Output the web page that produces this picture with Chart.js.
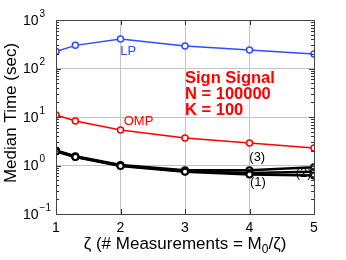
<!DOCTYPE html>
<html>
<head>
<meta charset="UTF-8">
<script src="https://cdn.jsdelivr.net/npm/chart.js"></script>
<style>
  body { margin: 0; background: #fff; }
  #wrap { width: 346px; height: 260px; }
</style>
</head>
<body>
<div id="wrap"><canvas id="timeChart"></canvas></div>
<script>
const zeta = [1, 1.3, 2, 3, 4, 5];
const lpTime = [225, 300, 405, 292, 242, 200];
const ompTime = [11, 8.3, 5.4, 3.7, 2.9, 2.3];
const curve1 = [1.95, 1.5, 0.98, 0.74, 0.65, 0.62];
const curve2 = [2.0, 1.52, 1.0, 0.76, 0.7, 0.74];
const curve3 = [2.05, 1.55, 1.02, 0.8, 0.8, 0.92];

const xTicks = [1, 2, 3, 4, 5];
const yExponents = [-1, 0, 1, 2, 3];

// text placed on the plot, in data coordinates
const notes = [
    { text: 'LP', x: 2.12, y: 230, color: '#2e4dff' },
    { text: 'OMP', x: 2.28, y: 8.0, color: '#ff0000' },
    { text: '(3)', x: 4.12, y: 1.44, color: '#000' },
    { text: '(2)', x: 4.84, y: 0.68, color: '#000' },
    { text: '(1)', x: 4.13, y: 0.44, color: '#000' }
];
const infoLines = ['Sign Signal', 'N = 100000', 'K = 100'];

const FONT = 'Arial, "Liberation Sans", sans-serif';

function pts(values) {
    return values.map((v, i) => ({ x: zeta[i], y: v }));
}

function blackSet(values) {
    return {
        data: pts(values),
        borderColor: '#000',
        borderWidth: 2.5,
        pointRadius: 3,
        pointBorderWidth: 2,
        pointBackgroundColor: '#fff',
        pointBorderColor: '#000'
    };
}

const decorations = {
    id: 'decorations',
    afterDraw(chart) {
        const { ctx, chartArea: a, scales: { x, y } } = chart;
        ctx.save();

        // inward tick marks
        ctx.strokeStyle = '#333';
        ctx.lineWidth = 1;
        ctx.beginPath();
        y.ticks.forEach(t => {
            const py = Math.round(y.getPixelForValue(t.value)) + 0.5;
            const len = t.major ? 5 : 3;
            ctx.moveTo(a.left, py); ctx.lineTo(a.left + len, py);
            ctx.moveTo(a.right, py); ctx.lineTo(a.right - len, py);
        });
        xTicks.forEach(v => {
            const px = Math.round(x.getPixelForValue(v)) + 0.5;
            ctx.moveTo(px, a.bottom); ctx.lineTo(px, a.bottom - 5);
            ctx.moveTo(px, a.top); ctx.lineTo(px, a.top + 5);
        });
        ctx.stroke();

        // frame
        ctx.strokeStyle = '#444';
        ctx.strokeRect(Math.round(a.left) + 0.5, Math.round(a.top) + 0.5,
            Math.round(a.width), Math.round(a.height));

        // y tick labels 10^n
        ctx.fillStyle = '#000';
        ctx.textBaseline = 'middle';
        ctx.textAlign = 'left';
        yExponents.forEach(e => {
            const py = y.getPixelForValue(Math.pow(10, e));
            ctx.font = '14px ' + FONT;
            ctx.fillText('10', 23, py + 1);
            const w = ctx.measureText('10').width;
            ctx.font = '10px ' + FONT;
            ctx.fillText(e < 0 ? '\u2212' + (-e) : String(e), 23 + w + 1, py - 6);
        });

        // x tick labels
        ctx.font = '14px ' + FONT;
        ctx.textAlign = 'center';
        xTicks.forEach(v => {
            ctx.fillText(String(v), x.getPixelForValue(v), a.bottom + 14);
        });

        // x title with subscript
        const p1 = '\u03b6 (# Measurements = M', p2 = '0', p3 = '/\u03b6)';
        ctx.font = '17px ' + FONT;
        const w1 = ctx.measureText(p1).width, w3 = ctx.measureText(p3).width;
        ctx.font = '12px ' + FONT;
        const w2 = ctx.measureText(p2).width;
        let sx = (a.left + a.right) / 2 - (w1 + w2 + w3) / 2;
        const ty = a.bottom + 30;
        ctx.textAlign = 'left';
        ctx.font = '17px ' + FONT;
        ctx.fillText(p1, sx, ty);
        ctx.font = '12px ' + FONT;
        ctx.fillText(p2, sx + w1, ty + 6);
        ctx.font = '17px ' + FONT;
        ctx.fillText(p3, sx + w1 + w2, ty);

        // y title
        ctx.save();
        ctx.translate(11, 113);
        ctx.rotate(-Math.PI / 2);
        ctx.textAlign = 'center';
        ctx.font = '17px ' + FONT;
        ctx.fillText('Median Time (sec)', 0, 0);
        ctx.restore();

        // curve labels
        ctx.textAlign = 'center';
        ctx.font = '13px ' + FONT;
        notes.forEach(n => {
            ctx.fillStyle = n.color;
            ctx.fillText(n.text, x.getPixelForValue(n.x), y.getPixelForValue(n.y));
        });

        // info block
        ctx.fillStyle = '#ff0000';
        ctx.textAlign = 'left';
        ctx.font = 'bold 16.5px ' + FONT;
        infoLines.forEach((s, i) => {
            ctx.fillText(s, a.left + 129, a.top + 58 + i * 16);
        });

        ctx.restore();
    }
};

new Chart(document.getElementById('timeChart'), {
    type: 'line',
    data: {
        datasets: [
            {
                data: pts(lpTime),
                borderColor: '#2e4dff',
                borderWidth: 1.5,
                pointRadius: 3,
                pointBorderWidth: 1.5,
                pointBackgroundColor: '#fff',
                pointBorderColor: '#2e4dff'
            },
            {
                data: pts(ompTime),
                borderColor: '#ff0000',
                borderWidth: 1.5,
                pointRadius: 3,
                pointBorderWidth: 1.5,
                pointBackgroundColor: '#fff',
                pointBorderColor: '#ff0000'
            },
            blackSet(curve1),
            blackSet(curve2),
            blackSet(curve3)
        ]
    },
    options: {
        responsive: true,
        maintainAspectRatio: false,
        animation: false,
        layout: { padding: { top: 20, right: 32, left: 0, bottom: 0 } },
        plugins: { legend: { display: false }, tooltip: { enabled: false } },
        scales: {
            x: {
                type: 'linear',
                min: 1,
                max: 5,
                afterBuildTicks: s => { s.ticks = xTicks.map(v => ({ value: v })); },
                afterFit: s => { s.height = 46; },
                ticks: { display: false },
                border: { display: false },
                grid: { color: '#c4c4c4', drawTicks: false, lineWidth: 1, borderDash: [1, 2] }
            },
            y: {
                type: 'logarithmic',
                min: 0.1,
                max: 1000,
                afterBuildTicks: s => {
                    const list = [];
                    yExponents.forEach(e => {
                        const base = Math.pow(10, e);
                        list.push({ value: base, major: true });
                        if (e < 3) {
                            for (let m = 2; m <= 9; m++) list.push({ value: m * base, major: false });
                        }
                    });
                    s.ticks = list;
                },
                afterFit: s => { s.width = 56; },
                ticks: { display: false },
                border: { display: false },
                grid: {
                    color: c => (c.tick && c.tick.major ? '#c4c4c4' : 'rgba(0,0,0,0)'),
                    drawTicks: false,
                    lineWidth: 1,
                    borderDash: [1, 2]
                }
            }
        }
    },
    plugins: [decorations]
});
</script>
</body>
</html>
